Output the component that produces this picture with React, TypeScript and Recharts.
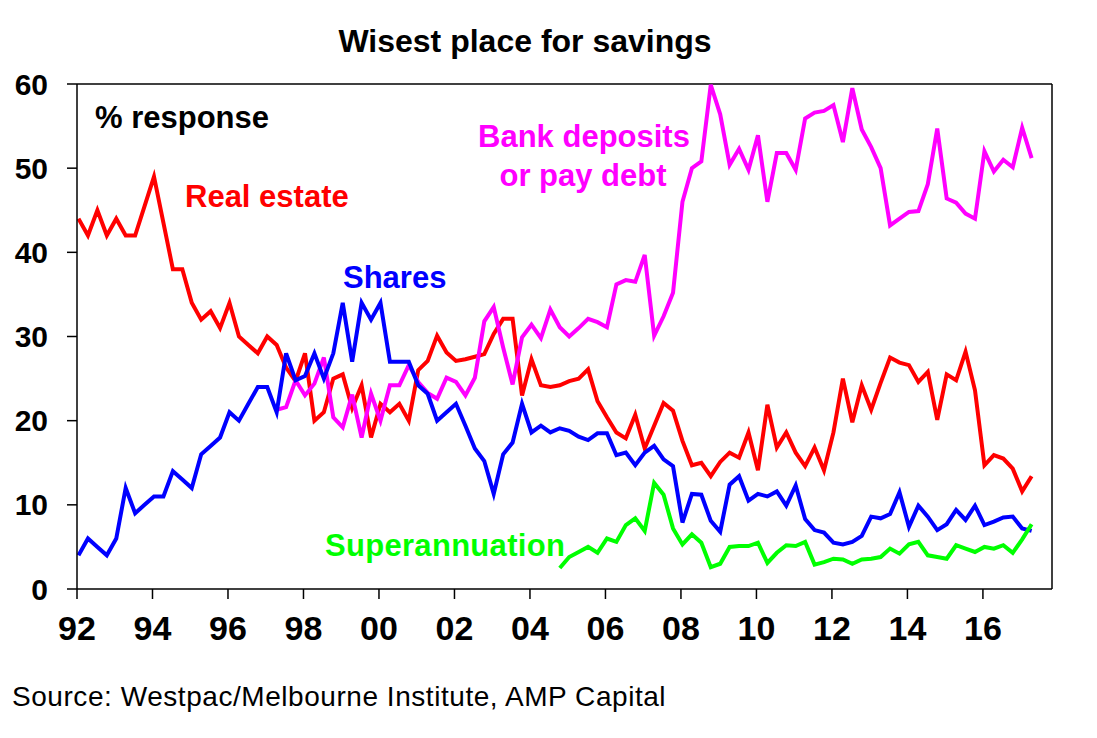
import * as React from 'react';
import { LineChart, Line, XAxis, YAxis, ReferenceLine } from 'recharts';

// quarterly survey, first reading early 1992
const firstSurvey = 1992.04;

// Real estate, % response, from 1992 Q1
const realEstate = [
  44, 42, 45, 42, 44, 42, 42, 45.5, 49, 43.5,
  38, 38, 34, 32, 33, 31, 34, 30, 29, 28,
  30, 29, 26.3, 24.7, 28, 20, 21, 25, 25.5, 21.5,
  24.2, 18, 22, 21, 22, 20, 26, 27.1, 30.1, 28.1,
  27.1, 27.3, 27.6, 27.9, 30.3, 32.1, 32.1, 23, 27.3, 24.2,
  24, 24.2, 24.7, 25, 26.1, 22.3, 20.4, 18.6, 17.9, 20.7,
  16.7, 19.4, 22.1, 21.2, 17.6, 14.7, 15, 13.4, 15.1, 16.2,
  15.6, 18.6, 14.1, 21.9, 16.8, 18.6, 16.2, 14.6, 16.8, 14.1,
  18.6, 25, 19.8, 24.2, 21.3, 24.5, 27.5, 26.9, 26.6, 24.6,
  25.8, 20.1, 25.5, 24.8, 28.2, 23.6, 14.7, 15.9, 15.5, 14.3,
  11.6, 13.4,
];

// Shares, from 1992 Q1
const shares = [
  4, 6, 5, 4, 6, 12, 9, 10, 11, 11,
  14, 13, 12, 16, 17, 18, 21, 20, 22, 24,
  24, 21, 28, 24.8, 25.3, 28, 25, 28, 34, 27,
  34, 32, 34, 27, 27, 27, 24.2, 23.2, 20, 21,
  22, 19.4, 16.7, 15.2, 11.3, 16, 17.4, 22, 18.6, 19.4,
  18.6, 19.1, 18.8, 18.1, 17.7, 18.5, 18.5, 15.9, 16.2, 14.7,
  16.2, 17, 15.4, 14.6, 7.9, 11.3, 11.2, 8.1, 6.8, 12.4,
  13.4, 10.5, 11.3, 11, 11.6, 9.9, 12.3, 8.3, 7, 6.7,
  5.5, 5.3, 5.6, 6.3, 8.6, 8.4, 8.9, 11.5, 7.4, 9.9,
  8.6, 7, 7.7, 9.4, 8.2, 9.9, 7.6, 8, 8.5, 8.6,
  7.2, 6.9,
];

// Bank deposits or pay debt, starts at quarter 21 (1997 Q2)
const bankStart = 21;
const bankDeposits = [
  21.3, 21.6, 24.8, 23, 24.4, 27.5, 20.4, 19.2, 23.1,
  18, 23.2, 20, 24.2, 24.2, 26.6, 24.6, 23.3, 22.6, 25.1,
  24.6, 23, 25.1, 31.8, 33.5, 28.7, 24.3, 29.9, 31.4, 29.8,
  33.2, 31.1, 30, 31, 32.1, 31.7, 31.1, 36.2, 36.7, 36.5,
  39.7, 30.1, 32.4, 35.2, 46, 50, 50.8, 59.9, 56.4, 50.4,
  52.3, 49.8, 53.9, 46, 51.8, 51.8, 49.8, 55.9, 56.6, 56.8,
  57.5, 53.1, 59.5, 54.6, 52.5, 50, 43.2, 44, 44.8, 44.9,
  48.1, 54.7, 46.4, 45.9, 44.6, 44, 52, 49.6, 51, 50.1,
  54.8, 51.2,
];

// Superannuation, starts at quarter 51 (2004 Q4)
const superStart = 51;
const superannuation = [
  2.5, 3.8, 4.4, 5, 4.3, 6, 5.6, 7.6, 8.4,
  6.9, 12.6, 11.2, 7.2, 5.3, 6.5, 5.5, 2.6, 3, 5,
  5.1, 5.1, 5.5, 3.1, 4.3, 5.2, 5.1, 5.6, 2.9, 3.2,
  3.6, 3.5, 3, 3.5, 3.6, 3.8, 4.8, 4.2, 5.3, 5.6,
  4, 3.8, 3.6, 5.2, 4.8, 4.4, 5, 4.8, 5.2, 4.3,
  5.9, 7.7,
];

const xTicks = [1992, 1994, 1996, 1998, 2000, 2002, 2004, 2006, 2008, 2010, 2012, 2014, 2016];
const yTicks = [0, 10, 20, 30, 40, 50, 60];
const xMax = 2017.83;

const rows = realEstate.map((v, i) => ({
  date: firstSurvey + i * 0.25,
  realEstate: v,
  shares: shares[i],
  bank: i >= bankStart ? bankDeposits[i - bankStart] : null,
  superannuation: i >= superStart ? superannuation[i - superStart] : null,
}));

const font = '"Liberation Sans", Arial, Helvetica, sans-serif';

export default function App() {
  return (
    <div style={{ position: 'absolute', left: 0, top: 0, width: 1097, height: 738, background: '#fff' }}>
      <LineChart
        width={1097}
        height={738}
        data={rows}
        margin={{ top: 84, right: 45, bottom: 99, left: 17 }}
      >
        <XAxis
          dataKey="date"
          type="number"
          domain={[1992, xMax]}
          allowDataOverflow
          ticks={xTicks}
          tickFormatter={(v) => String(v).slice(2)}
          height={50}
          tickSize={10}
          tickMargin={17}
          axisLine={{ stroke: '#000', strokeWidth: 1.5 }}
          tickLine={{ stroke: '#000', strokeWidth: 1.5 }}
          tick={{ fill: '#000', fontSize: 34, fontWeight: 'bold', fontFamily: font }}
        />
        <YAxis
          domain={[0, 60]}
          ticks={yTicks}
          width={60}
          tickSize={10}
          tickMargin={19}
          axisLine={{ stroke: '#000', strokeWidth: 1.5 }}
          tickLine={{ stroke: '#000', strokeWidth: 1.5 }}
          tick={{ fill: '#000', fontSize: 30, fontWeight: 'bold', fontFamily: font }}
        />
        <ReferenceLine y={60} stroke="#000" strokeWidth={1.5} />
        <ReferenceLine x={xMax} stroke="#000" strokeWidth={1.5} />
        <Line dataKey="realEstate" stroke="#ff0000" strokeWidth={4} dot={false} isAnimationActive={false} />
        <Line dataKey="bank" stroke="#ff00ff" strokeWidth={4} dot={false} isAnimationActive={false} />
        <Line dataKey="shares" stroke="#0000ff" strokeWidth={4} dot={false} isAnimationActive={false} />
        <Line dataKey="superannuation" stroke="#00ff00" strokeWidth={4} dot={false} isAnimationActive={false} />
      </LineChart>
      <svg
        width={1097}
        height={738}
        style={{ position: 'absolute', left: 0, top: 0, pointerEvents: 'none' }}
        fontFamily={font}
      >
        <text x={525} y={52} textAnchor="middle" fontSize={32} fontWeight="bold" fill="#000">Wisest place for savings</text>
        <text x={95} y={128} fontSize={31} fontWeight="bold" fill="#000">% response</text>
        <text x={185} y={207} fontSize={31} fontWeight="bold" fill="#ff0000">Real estate</text>
        <text x={343} y={288} fontSize={31} fontWeight="bold" fill="#0000ff">Shares</text>
        <text x={584} y={147} textAnchor="middle" fontSize={31} fontWeight="bold" fill="#ff00ff">Bank deposits</text>
        <text x={583} y={186} textAnchor="middle" fontSize={31} fontWeight="bold" fill="#ff00ff">or pay debt</text>
        <text x={325} y={556} fontSize={31} fontWeight="bold" fill="#00ff00" letterSpacing={0.3}>Superannuation</text>
        <text x={12} y={706} fontSize={28} fill="#000" letterSpacing={0.55}>Source: Westpac/Melbourne Institute, AMP Capital</text>
      </svg>
    </div>
  );
}
